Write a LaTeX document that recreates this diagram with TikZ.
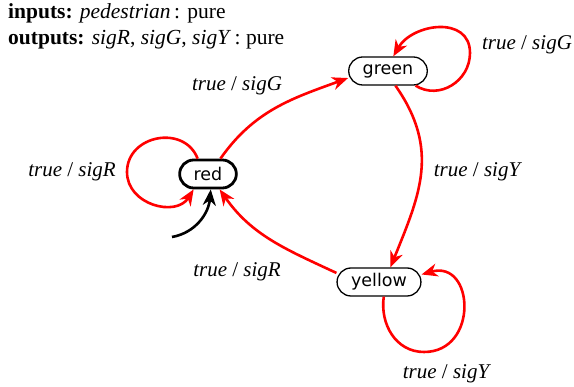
\documentclass[tikz,border=0pt]{standalone}
\usepackage{fontspec}
\setmainfont{Liberation Serif}
\newfontfamily\statefont{DejaVu Sans}
\usetikzlibrary{arrows.meta, positioning}
\definecolor{transred}{RGB}{255,0,0}

\begin{document}
\begin{tikzpicture}[x=1pt, y=1pt,
  every node/.style={font=\fontsize{21}{25}\selectfont},
  state/.style={rectangle, draw, line width=1.3pt, rounded corners=14pt, minimum height=28pt, inner xsep=14pt, font=\statefont\fontsize{17.5}{20}\selectfont},
  initstate/.style={state, line width=2.8pt},
  trans/.style={draw=transred, line width=2.6pt, -{Stealth[length=16pt, width=13pt, inset=5pt]}},
  initarrow/.style={draw=black, line width=2.6pt, -{Stealth[length=16pt, width=13pt, inset=5pt]}}]
\useasboundingbox (0,0) rectangle (574,387);

% Ports
\node[anchor=north west, align=left, inner sep=0pt, font=\fontsize{21.5}{26}\selectfont] (ports) at (8,384)
  {\textbf{inputs:} \textit{pedestrian}\,: pure\\ \textbf{outputs:} \textit{sigR}, \textit{sigG}, \textit{sigY}\,: pure};

% States
\node[initstate] (red) at (208,213) {red};
\node[state] (green) at (388,316) {green};
\node[state] (yellow) at (379,105) {yellow};

% Initial transition
\coordinate (start) at (172,150);
\draw[initarrow] (start) to[out=10, in=-95] (red.-80);

% Transitions
\draw[trans] (red.51) to[out=55, in=200] (green.190);
\draw[trans] (green.-63) to[out=-55, in=68, looseness=1.1] (yellow.52);
\draw[trans] (yellow.168) to[out=155, in=-55] (red.-53);

% Self loops
\draw[trans] (red.124) .. controls +(111:37) and +(90:37) .. (127,215) .. controls +(270:33) and +(238:33) .. (red.227);
\draw[trans] (green.-28) .. controls +(328:28) and +(270:28) .. (470,334) .. controls +(90:38) and +(60:38) .. (green.70);
\draw[trans] (yellow.-72) .. controls +(262:28) and +(180:28) .. (424,35) .. controls +(0:55) and +(16:55) .. (yellow.10);

% Labels
\node (lredself) at (72,215) {\textit{true} / \textit{sigR}};
\node (lredgreen) at (237,301) {\textit{true} / \textit{sigG}};
\node (lgreenself) at (527,342) {\textit{true} / \textit{sigG}};
\node (lgreenyellow) at (478,215) {\textit{true} / \textit{sigY}};
\node (lyellowred) at (237,115) {\textit{true} / \textit{sigR}};
\node (lyellowself) at (447,13) {\textit{true} / \textit{sigY}};
\end{tikzpicture}
\end{document}
